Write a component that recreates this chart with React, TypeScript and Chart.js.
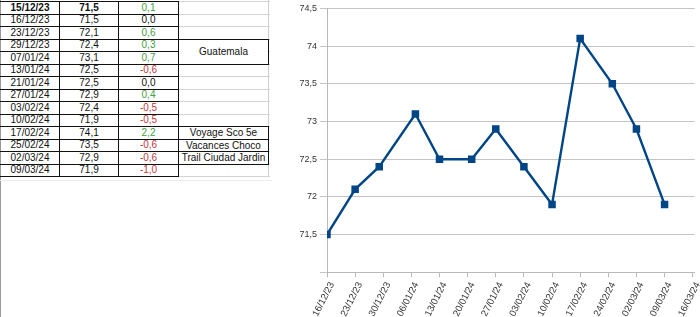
import React, { useEffect, useRef } from 'react';
import { Chart, registerables } from 'chart.js';

Chart.register(...registerables);

// ---- Spreadsheet data ----
const tableDates = ['15/12/23', '16/12/23', '23/12/23', '29/12/23', '07/01/24', '13/01/24', '21/01/24', '27/01/24', '03/02/24', '10/02/24', '17/02/24', '25/02/24', '02/03/24', '09/03/24'];
const tableWeights = [71.5, 71.5, 72.1, 72.4, 73.1, 72.5, 72.5, 72.9, 72.4, 71.9, 74.1, 73.5, 72.9, 71.9];
const tableDeltas = [0.1, 0.0, 0.6, 0.3, 0.7, -0.6, 0.0, 0.4, -0.5, -0.5, 2.2, -0.6, -0.6, -1.0];
const noteLabels = ['Guatemala', 'Voyage Sco 5e', 'Vacances Choco', 'Trail Ciudad Jardin'];
const noteRows = [3, 10, 11, 12];
const noteSpans = [2, 1, 1, 1];

// ---- Chart data ----
const chartDates = ['16/12/23', '23/12/23', '29/12/23', '07/01/24', '13/01/24', '21/01/24', '27/01/24', '03/02/24', '10/02/24', '17/02/24', '25/02/24', '02/03/24', '09/03/24'];
const chartWeights = [71.5, 72.1, 72.4, 73.1, 72.5, 72.5, 72.9, 72.4, 71.9, 74.1, 73.5, 72.9, 71.9];
const xTickDates = ['16/12/23', '23/12/23', '30/12/23', '06/01/24', '13/01/24', '20/01/24', '27/01/24', '03/02/24', '10/02/24', '17/02/24', '24/02/24', '02/03/24', '09/03/24', '16/03/24'];
const yMin = 71;
const yMax = 74.5;
const yStep = 0.5;

function toUtc(s: string) {
  const [d, m, y] = s.split('/').map(Number);
  return Date.UTC(2000 + y, m - 1, d);
}
const origin = toUtc(xTickDates[0]);
function dayOf(s: string) {
  return (toUtc(s) - origin) / 86400000;
}
const fmt = (v: number) => v.toFixed(1).replace('.', ',');

const FONT = '"Liberation Sans", Arial, sans-serif';
const colX = [0, 59, 118, 178, 268];
const rowTop = 1;
const rowH = 12.5;

function Line({ x, y, w, h, c }: { x: number; y: number; w: number; h: number; c: string }) {
  return <div style={{ position: 'absolute', left: x, top: y, width: w, height: h, background: c }} />;
}

function Sheet() {
  const els: any[] = [];
  const n = tableDates.length;
  const bottom = rowTop + n * rowH;
  for (let k = 0; k <= n; k++) {
    const y = Math.round(rowTop + k * rowH);
    els.push(<Line key={'gd' + k} x={colX[3]} y={y} w={colX[4] - colX[3] + 2} h={1} c="#d4d4d4" />);
  }
  els.push(<Line key="gv" x={colX[4]} y={0} w={1} h={Math.round(bottom) + 1} c="#cfcfcf" />);
  els.push(<Line key="edge" x={0} y={0} w={1} h={317} c="#9a9a9a" />);
  els.push(<Line key="faint" x={0} y={180} w={272} h={1} c="#ececec" />);
  for (let k = 0; k <= n; k++) {
    const y = Math.round(rowTop + k * rowH);
    els.push(<Line key={'h' + k} x={0} y={y} w={colX[3] + 1} h={1} c="#111" />);
  }
  for (let c = 1; c <= 3; c++) {
    els.push(<Line key={'v' + c} x={colX[c]} y={Math.round(rowTop)} w={1} h={Math.round(bottom - rowTop) + 1} c="#111" />);
  }
  noteLabels.forEach((lab, i) => {
    const t = Math.round(rowTop + noteRows[i] * rowH);
    const b = Math.round(rowTop + (noteRows[i] + noteSpans[i]) * rowH);
    els.push(
      <div
        key={'n' + i}
        style={{
          position: 'absolute',
          left: colX[3],
          top: t,
          width: colX[4] - colX[3] + 1,
          height: b - t + 1,
          boxSizing: 'border-box',
          border: '1px solid #111',
          background: '#fff',
          fontFamily: FONT,
          fontSize: 10,
          color: '#111',
          textAlign: 'center',
          lineHeight: b - t - 1 + 'px',
          whiteSpace: 'nowrap',
        }}
      >
        {lab}
      </div>
    );
  });
  tableDates.forEach((d, i) => {
    const top = rowTop + i * rowH;
    const bold = i === 0;
    const delta = tableDeltas[i];
    const dc = delta > 0 ? '#3f9e3f' : delta < 0 ? '#c23a3a' : '#111';
    const texts = [
      { t: d, c: '#111', b: bold },
      { t: fmt(tableWeights[i]), c: '#111', b: bold },
      { t: fmt(delta), c: dc, b: false },
    ];
    texts.forEach((tx, c) => {
      els.push(
        <div
          key={'c' + i + '_' + c}
          style={{
            position: 'absolute',
            left: colX[c] + 1,
            top: top + 0.5,
            width: colX[c + 1] - colX[c] - 1,
            height: rowH,
            fontFamily: FONT,
            fontSize: 10,
            fontWeight: tx.b ? 'bold' : 'normal',
            lineHeight: rowH + 'px',
            textAlign: 'center',
            color: tx.c,
            whiteSpace: 'nowrap',
          }}
        >
          {tx.t}
        </div>
      );
    });
  });
  return <>{els}</>;
}

export default function App() {
  const ref = useRef<HTMLCanvasElement>(null);
  useEffect(() => {
    if (!ref.current) return;
    const grey = '#b8b8b8';
    const chart = new Chart(ref.current, {
      type: 'line',
      data: {
        datasets: [
          {
            data: chartDates.map((d, i) => ({ x: dayOf(d), y: chartWeights[i] })),
            borderColor: '#004586',
            backgroundColor: '#004586',
            borderWidth: 2.4,
            pointStyle: 'rect',
            pointRadius: 5.3,
            pointBorderWidth: 0,
            pointBackgroundColor: '#004586',
            tension: 0,
          },
        ],
      },
      options: {
        responsive: false,
        animation: false,
        layout: { padding: { top: 6, left: 0, right: 0, bottom: 0 } },
        plugins: { legend: { display: false }, tooltip: { enabled: false } },
        scales: {
          x: {
            type: 'linear',
            min: 0,
            max: 91.5,
            afterBuildTicks: (s: any) => {
              s.ticks = xTickDates.map((d) => ({ value: dayOf(d) }));
            },
            afterFit: (s: any) => {
              s.height = 44.7;
              s.paddingLeft = 0;
              s.paddingRight = 0;
            },
            ticks: {
              autoSkip: false,
              minRotation: 63,
              maxRotation: 63,
              padding: 3,
              labelOffset: 5,
              color: '#333',
              font: { family: FONT, size: 9.5 },
              callback: (v: any) => {
                const idx = xTickDates.findIndex((d) => dayOf(d) === v);
                return idx >= 0 ? xTickDates[idx] : '';
              },
            },
            grid: { drawOnChartArea: false, drawTicks: true, tickLength: 5, color: grey },
            border: { display: true, color: grey },
          },
          y: {
            min: yMin,
            max: yMax,
            afterFit: (s: any) => {
              s.width = 47;
            },
            ticks: {
              stepSize: yStep,
              padding: 3,
              color: '#333',
              font: { family: FONT, size: 9 },
              callback: (v: any) => (v === yMin ? '' : String(v).replace('.', ',')),
            },
            grid: { color: '#c4c4c4', tickLength: 7, drawTicks: true },
            border: { display: true, color: grey },
          },
        },
      },
    } as any);
    return () => chart.destroy();
  }, []);
  return (
    <div style={{ position: 'absolute', left: 0, top: 0, width: 700, height: 317, overflow: 'hidden', background: '#fff' }}>
      <Sheet />
      <canvas ref={ref} width={420} height={317} style={{ position: 'absolute', left: 280, top: 0, width: 420, height: 317 }} />
    </div>
  );
}
